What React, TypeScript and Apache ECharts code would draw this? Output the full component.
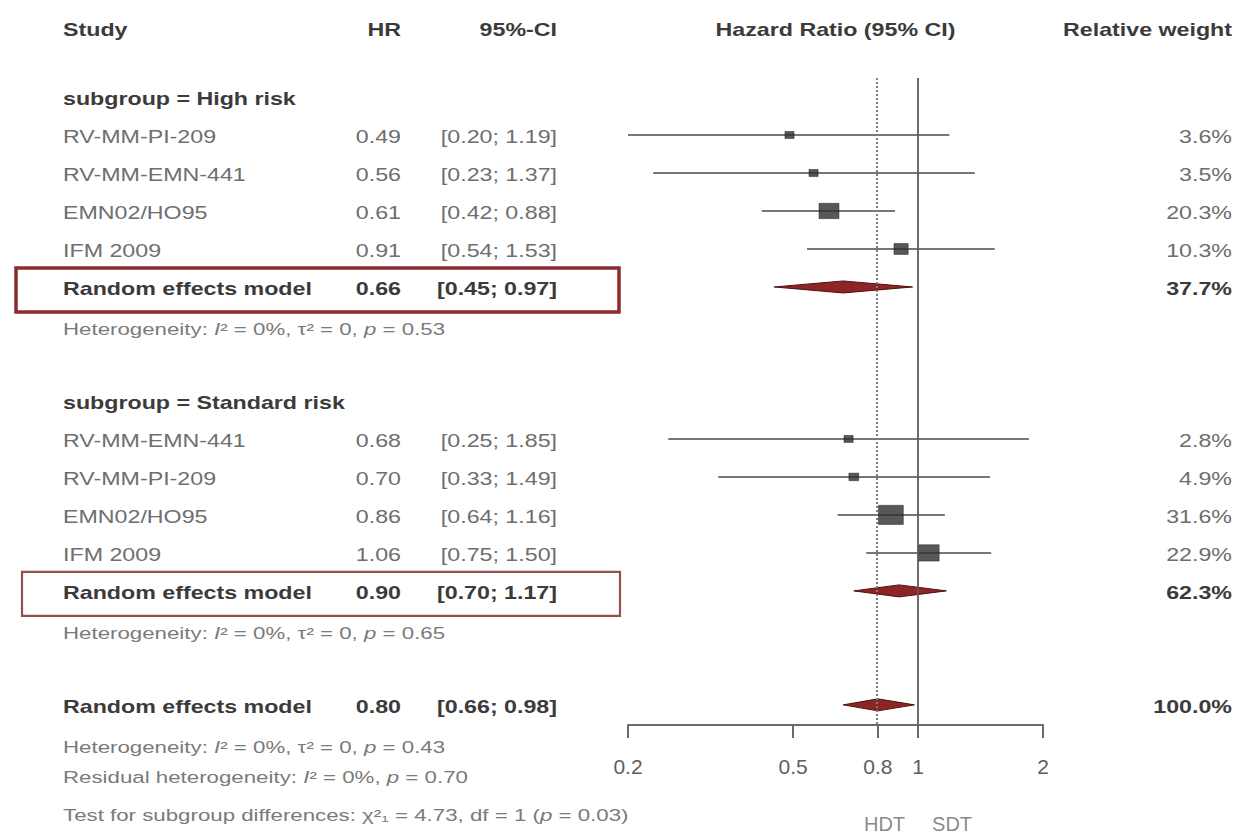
import React, { useEffect, useRef } from "react";
import * as echarts from "echarts";

// ---------- data ----------
const studyNames = ["RV-MM-PI-209", "RV-MM-EMN-441", "EMN02/HO95", "IFM 2009", "RV-MM-EMN-441", "RV-MM-PI-209", "EMN02/HO95", "IFM 2009"];
const studyRows = [1, 2, 3, 4, 9, 10, 11, 12];
const studyHR = [0.49, 0.56, 0.61, 0.91, 0.68, 0.70, 0.86, 1.06];
const studyLower = [0.20, 0.23, 0.42, 0.54, 0.25, 0.33, 0.64, 0.75];
const studyUpper = [1.19, 1.37, 0.88, 1.53, 1.85, 1.49, 1.16, 1.50];
const studyWeights = [3.6, 3.5, 20.3, 10.3, 2.8, 4.9, 31.6, 22.9];

const pooledNames = ["Random effects model", "Random effects model", "Random effects model"];
const pooledRows = [5, 13, 16];
const pooledHR = [0.66, 0.90, 0.80];
const pooledLower = [0.45, 0.70, 0.66];
const pooledUpper = [0.97, 1.17, 0.98];
const pooledWeights = [37.7, 62.3, 100.0];

const subgroupNames = ["subgroup = High risk", "subgroup = Standard risk"];
const subgroupRows = [0, 8];

const hetRows = [6, 14, 17];
const hetI2 = ["0%", "0%", "0%"];
const hetTau2 = ["0", "0", "0"];
const hetP = ["0.53", "0.65", "0.43"];
const residualI2 = "0%";
const residualP = "0.70";
const testChi2 = "4.73";
const testDf = "1";
const testP = "0.03";

const tickValues = [0.2, 0.5, 0.8, 1, 2];
const axisMin = 0.2;
const axisMax = 2;
const nullHR = 1;
const dottedHR = 0.8;
const directionLabels = ["HDT", "SDT"];

const headers = { study: "Study", hr: "HR", ci: "95%-CI", plot: "Hazard Ratio (95% CI)", weight: "Relative weight" };

// ---------- layout ----------
const W = 1245;
const H = 835;
const gridLeft = 628;
const gridRight = 1043;
const gridTop = 78;
const gridBottom = 725;
const rowMin = -0.5;
const rowMax = 16.53;
const FONT = "'Liberation Sans', Arial, Helvetica, sans-serif";
const SX = 1.29;
const colName = 63;
const colHR = 401;
const colCI = 557;
const colWeight = 1232;
const textOffset = 2;

const rowY = (k: number) => gridTop + ((k - rowMin) / (rowMax - rowMin)) * (gridBottom - gridTop);

const lg = (v: number) => Math.log10(v);
const f2 = (v: number) => v.toFixed(2);

function txt(x: number, y: number, text: string, opts: any = {}) {
  return {
    type: "text",
    x,
    y,
    scaleX: opts.scaleX ?? SX,
    silent: true,
    style: {
      text,
      fill: opts.fill ?? "#6b6b6b",
      fontSize: opts.size ?? 18,
      fontFamily: FONT,
      fontWeight: opts.bold ? "bold" : "normal",
      textAlign: opts.align ?? "left",
      textVerticalAlign: "middle",
      verticalAlign: "middle",
    },
  };
}

function richTxt(x: number, y: number, parts: [string, string][], size: number, fill: string, sx: number) {
  const text = parts.map(([k, t]) => `{${k}|${t}}`).join("");
  const base = { fontSize: size, fontFamily: FONT, fill };
  return {
    type: "text",
    x,
    y,
    scaleX: sx,
    silent: true,
    style: {
      text,
      textAlign: "left",
      verticalAlign: "middle",
      textVerticalAlign: "middle",
      fontSize: size,
      fontFamily: FONT,
      fill,
      rich: {
        n: { ...base },
        i: { ...base, fontStyle: "italic" },
      },
    },
  };
}

export default function App() {
  const ref = useRef<HTMLDivElement>(null);

  useEffect(() => {
    if (!ref.current) return;
    const chart = echarts.init(ref.current, undefined, { renderer: "svg" });

    const ciData = studyRows.map((r, i) => [lg(studyLower[i]), lg(studyUpper[i]), r]);
    const pointData = studyRows.map((r, i) => [lg(studyHR[i]), r, studyWeights[i]]);
    const diamondData = pooledRows.map((r, i) => [lg(pooledLower[i]), lg(pooledHR[i]), lg(pooledUpper[i]), r]);

    const regular = "#6e6e6e";
    const bold = "#3b3b3b";
    const het = "#7a7a7a";
    const hetSize = 16.5;
    const hetSX = 1.35;

    const graphics: any[] = [];
    const hy = 30;
    graphics.push(txt(colName, hy, headers.study, { bold: true, fill: bold }));
    graphics.push(txt(colHR, hy, headers.hr, { bold: true, fill: bold, align: "right" }));
    graphics.push(txt(colCI, hy, headers.ci, { bold: true, fill: bold, align: "right" }));
    graphics.push(txt((gridLeft + gridRight) / 2, hy, headers.plot, { bold: true, fill: bold, align: "center" }));
    graphics.push(txt(colWeight, hy, headers.weight, { bold: true, fill: bold, align: "right" }));

    subgroupRows.forEach((r, i) => {
      graphics.push(txt(colName, rowY(r) + textOffset, subgroupNames[i], { bold: true, fill: bold }));
    });

    studyRows.forEach((r, i) => {
      const y = rowY(r) + textOffset;
      graphics.push(txt(colName, y, studyNames[i], { fill: regular }));
      graphics.push(txt(colHR, y, f2(studyHR[i]), { fill: regular, align: "right" }));
      graphics.push(txt(colCI, y, `[${f2(studyLower[i])}; ${f2(studyUpper[i])}]`, { fill: regular, align: "right" }));
      graphics.push(txt(colWeight, y, `${studyWeights[i].toFixed(1)}%`, { fill: regular, align: "right" }));
    });

    pooledRows.forEach((r, i) => {
      const y = rowY(r) + textOffset;
      graphics.push(txt(colName, y, pooledNames[i], { bold: true, fill: bold }));
      graphics.push(txt(colHR, y, f2(pooledHR[i]), { bold: true, fill: bold, align: "right" }));
      graphics.push(txt(colCI, y, `[${f2(pooledLower[i])}; ${f2(pooledUpper[i])}]`, { bold: true, fill: bold, align: "right" }));
      graphics.push(txt(colWeight, y, `${pooledWeights[i].toFixed(1)}%`, { bold: true, fill: bold, align: "right" }));
    });

    hetRows.forEach((r, i) => {
      const y = rowY(r) + 4;
      graphics.push(
        richTxt(colName, y, [
          ["n", "Heterogeneity: "],
          ["i", "I"],
          ["n", `² = ${hetI2[i]}, τ² = ${hetTau2[i]}, `],
          ["i", "p"],
          ["n", ` = ${hetP[i]}`],
        ], hetSize, het, hetSX)
      );
    });
    graphics.push(
      richTxt(colName, 777, [
        ["n", "Residual heterogeneity: "],
        ["i", "I"],
        ["n", `² = ${residualI2}, `],
        ["i", "p"],
        ["n", ` = ${residualP}`],
      ], hetSize, het, hetSX)
    );
    graphics.push(
      richTxt(colName, 815, [
        ["n", "Test for subgroup differences: χ²₁ = "],
        ["n", `${testChi2}, df = ${testDf} (`],
        ["i", "p"],
        ["n", ` = ${testP})`],
      ], hetSize, het, hetSX)
    );

    graphics.push({
      type: "rect",
      silent: true,
      shape: { x: 16, y: rowY(pooledRows[0]) + textOffset - 21, width: 603, height: 44 },
      style: { fill: "none", stroke: "#8c2a2c", lineWidth: 3.5 },
    });
    graphics.push({
      type: "rect",
      silent: true,
      shape: { x: 22, y: rowY(pooledRows[1]) + textOffset - 21, width: 598, height: 44 },
      style: { fill: "none", stroke: "#94504f", lineWidth: 2.2 },
    });

    chart.setOption({
      animation: false,
      backgroundColor: "#ffffff",
      grid: {
        left: gridLeft,
        right: W - gridRight,
        top: gridTop,
        bottom: H - gridBottom,
        containLabel: false,
      },
      xAxis: {
        type: "value",
        min: lg(axisMin),
        max: lg(axisMax),
        position: "bottom",
        splitLine: { show: false },
        axisLine: { show: true, onZero: false, lineStyle: { color: "#6a6a6a", width: 2 } },
        axisTick: {
          show: true,
          length: 13,
          inside: false,
          customValues: tickValues.map(lg),
          lineStyle: { color: "#6a6a6a", width: 2 },
        },
        axisLabel: {
          show: true,
          customValues: tickValues.map(lg),
          margin: 31,
          color: "#5e5e5e",
          fontSize: 21,
          fontFamily: FONT,
          formatter: (v: number) => String(Number(Math.pow(10, v).toPrecision(2))),
        },
      },
      yAxis: {
        type: "value",
        min: rowMin,
        max: rowMax,
        inverse: true,
        show: false,
        splitLine: { show: false },
      },
      series: [
        {
          type: "custom",
          name: "ci",
          silent: true,
          encode: { x: [0, 1], y: 2 },
          data: ciData,
          z: 2,
          renderItem: (params: any, api: any) => {
            const a = api.coord([api.value(0), api.value(2)]);
            const b = api.coord([api.value(1), api.value(2)]);
            return {
              type: "line",
              shape: { x1: a[0], y1: a[1], x2: b[0], y2: b[1] },
              style: { stroke: "#787878", lineWidth: 2 },
            };
          },
        },
        {
          type: "scatter",
          name: "studies",
          silent: true,
          symbol: "rect",
          z: 3,
          symbolSize: (val: number[]) => {
            const h = Math.max(7, 3.4 * Math.sqrt(val[2]));
            return [h * 1.3, h];
          },
          itemStyle: { color: "#2e2e2e", borderColor: "#1a1a1a", borderWidth: 0.6 },
          data: pointData,
          markLine: {
            silent: true,
            symbol: ["none", "none"],
            label: { show: false },
            data: [
              { xAxis: lg(nullHR), lineStyle: { color: "#5c5c5c", width: 1.8, type: "solid" } },
              { xAxis: lg(dottedHR), lineStyle: { color: "#7e7e7e", width: 2, type: [2, 2] } },
            ],
          },
        },
        {
          type: "custom",
          name: "pooled",
          silent: true,
          encode: { x: [0, 1, 2], y: 3 },
          data: diamondData,
          z: 4,
          renderItem: (params: any, api: any) => {
            const r = api.value(3);
            const lo = api.coord([api.value(0), r]);
            const mid = api.coord([api.value(1), r]);
            const hi = api.coord([api.value(2), r]);
            const hh = 6;
            return {
              type: "polygon",
              shape: { points: [[lo[0], lo[1]], [mid[0], mid[1] - hh], [hi[0], hi[1]], [mid[0], mid[1] + hh]] },
              style: { fill: "#8e2525", stroke: "#4d1212", lineWidth: 1 },
            };
          },
        },
        {
          type: "scatter",
          name: "direction",
          silent: true,
          symbolSize: 0,
          encode: { x: 0, y: 1 },
          data: [
            {
              value: [lg(nullHR), rowMax],
              name: directionLabels[0],
              label: { align: "right", offset: [-13, 0] },
            },
            {
              value: [lg(nullHR), rowMax],
              name: directionLabels[1],
              label: { align: "left", offset: [14, 0] },
            },
          ],
          label: {
            show: true,
            position: "bottom",
            distance: 89,
            formatter: (p: any) => p.name,
            color: "#6a6a6a",
            fontSize: 20,
            fontFamily: FONT,
          },
        },
      ],
      graphic: graphics,
    });

    return () => chart.dispose();
  }, []);

  return <div ref={ref} style={{ position: "absolute", left: 0, top: 0, width: W, height: H }} />;
}
